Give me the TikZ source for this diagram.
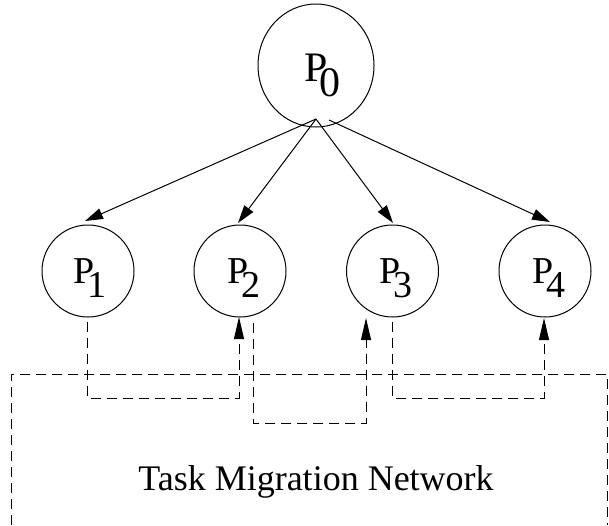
\documentclass[tikz,border=0pt]{standalone}
\usepackage{fontspec}
\setmainfont{Liberation Serif}
\usetikzlibrary{arrows.meta,shapes.geometric}
\newcommand\plab[1]{P\kern-0.2em\raisebox{-0.37em}{#1}}
\begin{document}
\begin{tikzpicture}[x=1pt,y=-1pt,line width=1pt,
  proc/.style={draw,circle,minimum size=92pt,inner sep=0pt},
  lab/.style={anchor=base west,inner sep=0pt,font=\fontsize{38}{40}\selectfont},
  flow/.style={-{Triangle[length=18pt,width=11pt]}},
  mig/.style={dash pattern=on 10pt off 6pt,-{Triangle[length=22pt,width=10pt]}},
  net/.style={dash pattern=on 10pt off 6pt}]
\useasboundingbox (0,0) rectangle (609,525);
% processors
\node[draw,ellipse,minimum width=116pt,minimum height=123pt,inner sep=0pt] (P0) at (316,65.5) {};
\node[proc] (P1) at (88,271) {};
\node[proc] (P2) at (240,271) {};
\node[proc] (P3) at (392.5,271) {};
\node[proc] (P4) at (545,271) {};
% labels
\node[lab,font=\fontsize{42}{44}\selectfont] (L0) at (304,81) {\plab{0}};
\node[lab] (L1) at (73,283) {\plab{1}};
\node[lab] (L2) at (227,283) {\plab{2}};
\node[lab] (L3) at (379,283) {\plab{3}};
\node[lab] (L4) at (532,283) {\plab{4}};
% distribution arrows
\coordinate (a0) at (316,119);
\coordinate (a1) at (329,120);
\coordinate (t1) at (85,221);
\coordinate (t2) at (238,223);
\coordinate (t3) at (393,223);
\coordinate (t4) at (550,222);
\draw[flow] (a0) -- (t1);
\draw[flow] (a0) -- (t2);
\draw[flow] (a0) -- (t3);
\draw[flow] (a1) -- (t4);
% migration network
\coordinate (o1) at (87,322);
\coordinate (i2) at (239,317);
\coordinate (o2) at (253,323);
\coordinate (i3) at (366,318);
\coordinate (o3) at (392,322);
\coordinate (i4) at (544,318);
\draw[mig] (o1) -- (87,398) -- (239,398) -- (i2);
\draw[mig] (o2) -- (253,423) -- (366,423) -- (i3);
\draw[mig] (o3) -- (392,398) -- (544,398) -- (i4);
\coordinate (nl) at (11,525);
\coordinate (nr) at (607,525);
\draw[net] (nl) -- (11,374) -- (607,374) -- (nr);
\node[anchor=base,inner sep=0pt,font=\fontsize{36}{38}\selectfont] (T) at (316,490) {Task Migration Network};
\end{tikzpicture}
\end{document}
